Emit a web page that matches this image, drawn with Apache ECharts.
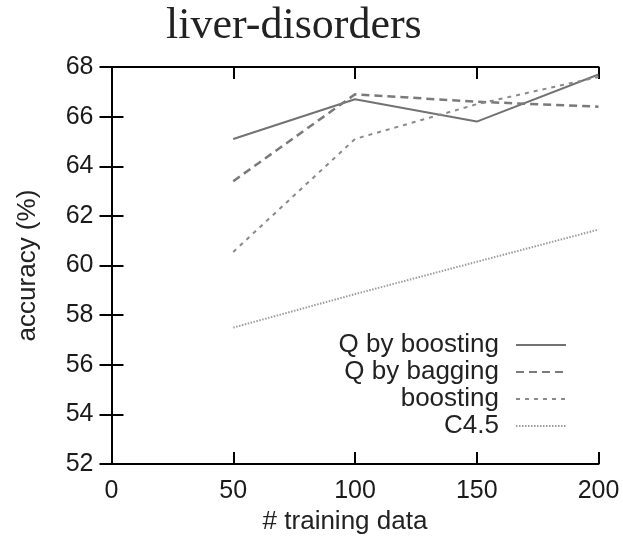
<!DOCTYPE html>
<html>
<head>
<meta charset="utf-8">
<script src="https://cdn.jsdelivr.net/npm/echarts@6/dist/echarts.min.js"></script>
<style>
html,body{margin:0;padding:0;background:#fff;}
#chart{width:623px;height:540px;}
</style>
</head>
<body>
<div id="chart"></div>
<script>
const titleText = 'liver-disorders';
const xName = '# training data';
const yName = 'accuracy (%)';
const trainingSizes = [50, 100, 150, 200];
const seriesNames = ['Q by boosting', 'Q by bagging', 'boosting', 'C4.5'];
const qBoosting = [65.1, 66.7, 65.8, 67.7];
const qBagging = [63.4, 66.9, 66.6, 66.4];
const boosting = [60.55, 65.1, 66.5, 67.6];
const c45 = [57.5, 58.85, 60.15, 61.45];
const xTicks = [0, 50, 100, 150, 200];
const yTicks = [52, 54, 56, 58, 60, 62, 64, 66, 68];

const allValues = [qBoosting, qBagging, boosting, c45];
const styles = [
  {color: '#727272', width: 2, type: 'solid'},
  {color: '#7a7a7a', width: 2.5, type: [8, 5]},
  {color: '#8a8a8a', width: 2, type: [4, 5]},
  {color: '#9c9c9c', width: 2, type: [1.5, 1.5]}
];

const font = 'Liberation Sans, Arial, sans-serif';
const chart = echarts.init(document.getElementById('chart'), null, {renderer: 'canvas'});

const frameLine = {show: true, lineStyle: {color: '#000', width: 2}};
const tickStyle = {show: true, inside: true, length: 12, lineStyle: {color: '#000', width: 2}};

chart.setOption({
  animation: false,
  backgroundColor: '#fff',
  title: {
    text: titleText,
    left: 166,
    top: 4,
    padding: 0,
    textStyle: {fontFamily: 'Liberation Serif, Times New Roman, serif', fontSize: 44, fontWeight: 'normal', color: '#222'}
  },
  grid: {left: 111.5, right: 24.5, top: 67, bottom: 69, containLabel: false},
  legend: {
    data: seriesNames,
    orient: 'vertical',
    align: 'right',
    right: 56,
    top: 332,
    padding: 0,
    itemGap: 1,
    itemWidth: 50,
    itemHeight: 14,
    selectedMode: false,
    itemStyle: {opacity: 0},
    textStyle: {fontFamily: font, fontSize: 26, color: '#222', padding: [0, 12, 0, 0]}
  },
  xAxis: [
    {
      type: 'value', min: xTicks[0], max: xTicks[xTicks.length - 1], interval: 50,
      position: 'bottom',
      name: xName, nameLocation: 'middle', nameGap: 39,
      nameTextStyle: {fontFamily: font, fontSize: 26, color: '#222', padding: [0, 20, 0, 0]},
      axisLine: frameLine, axisTick: tickStyle,
      axisLabel: {fontFamily: font, fontSize: 25, color: '#1a1a1a', margin: 15},
      splitLine: {show: false}
    },
    {
      type: 'value', min: xTicks[0], max: xTicks[xTicks.length - 1], interval: 50,
      position: 'top',
      axisLine: frameLine, axisTick: tickStyle,
      axisLabel: {show: false}, splitLine: {show: false}
    }
  ],
  yAxis: [
    {
      type: 'value', min: yTicks[0], max: yTicks[yTicks.length - 1], interval: 2,
      position: 'left',
      name: yName, nameLocation: 'middle', nameGap: 71, nameRotate: 90,
      nameTextStyle: {fontFamily: font, fontSize: 26, color: '#222'},
      axisLine: frameLine, axisTick: tickStyle,
      axisLabel: {fontFamily: font, fontSize: 25, color: '#1a1a1a', margin: 18},
      splitLine: {show: false}
    },
    {
      type: 'value', min: yTicks[0], max: yTicks[yTicks.length - 1], interval: 2,
      position: 'right',
      axisLine: frameLine, axisTick: tickStyle,
      axisLabel: {show: false}, splitLine: {show: false}
    }
  ],
  series: seriesNames.map((name, i) => ({
    name: name,
    type: 'line',
    xAxisIndex: 0,
    yAxisIndex: 0,
    symbol: 'none',
    data: trainingSizes.map((x, j) => [x, allValues[i][j]]),
    color: styles[i].color,
    lineStyle: {color: styles[i].color, width: styles[i].width, type: styles[i].type},
    z: 2
  }))
});
</script>
</body>
</html>
